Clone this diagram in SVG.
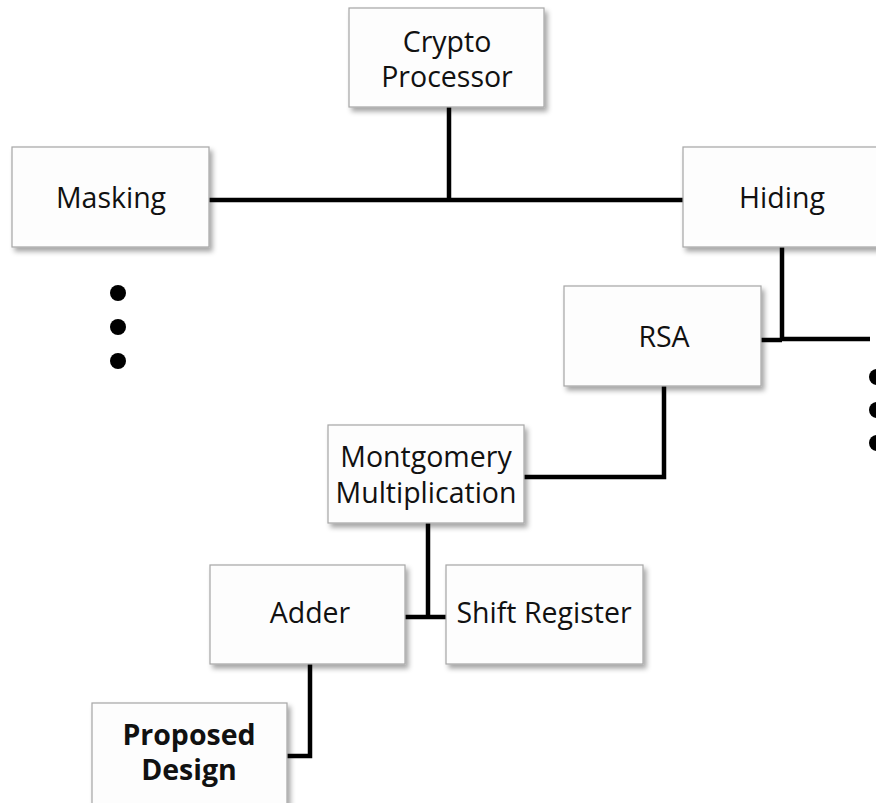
<svg xmlns="http://www.w3.org/2000/svg" width="876" height="803" viewBox="0 0 876 803">
  <defs>
    <filter id="shadow" x="-10%" y="-10%" width="130%" height="140%">
      <feDropShadow dx="3" dy="4" stdDeviation="2.5" flood-color="#000" flood-opacity="0.35"/>
    </filter>
  </defs>
  <style>
    .box { fill: #fdfdfd; stroke: #a6a6a6; stroke-width: 1.2; filter: url(#shadow); }
    .lbl { font-family: "Open Sans", "Noto Sans", "Liberation Sans", sans-serif; font-size: 28.5px; fill: #111111; text-anchor: middle; }
    .bold { font-weight: bold; }
    .wire { fill: none; stroke: #000; stroke-width: 4.5; stroke-linejoin: miter; stroke-linecap: butt; }
    .dot { fill: #000; }
  </style>
  <rect width="876" height="803" fill="#ffffff"/>

  <!-- connectors -->
  <g id="connectors">
    <path class="wire" d="M449 107 V200"/>
    <path class="wire" d="M209 200 H683"/>
    <path class="wire" d="M782 247 V339"/>
    <path class="wire" d="M761 340 H782"/>
    <path class="wire" d="M782 339 H870"/>
    <path class="wire" d="M664 386 V477 H524"/>
    <path class="wire" d="M428 523 V617"/>
    <path class="wire" d="M405 617 H446"/>
    <path class="wire" d="M310 664 V756 H287"/>
  </g>

  <!-- continuation dots -->
  <g id="dots-left">
    <circle class="dot" cx="118" cy="293" r="8"/>
    <circle class="dot" cx="118" cy="327" r="8"/>
    <circle class="dot" cx="118" cy="361" r="8"/>
  </g>
  <g id="dots-right">
    <circle class="dot" cx="877" cy="377" r="8"/>
    <circle class="dot" cx="877" cy="410" r="8"/>
    <circle class="dot" cx="877" cy="443" r="8"/>
  </g>

  <g id="crypto-processor">
    <rect class="box" x="349" y="8" width="195" height="99"/>
    <text class="lbl" x="447" y="52">Crypto</text>
    <text class="lbl" x="447" y="87">Processor</text>
  </g>

  <g id="masking">
    <rect class="box" x="12" y="147" width="197" height="100"/>
    <text class="lbl" x="111" y="208">Masking</text>
  </g>

  <g id="hiding">
    <rect class="box" x="683" y="147" width="197" height="100"/>
    <text class="lbl" x="782" y="208">Hiding</text>
  </g>

  <g id="rsa">
    <rect class="box" x="564" y="286" width="197" height="100"/>
    <text class="lbl" x="664" y="347">RSA</text>
  </g>

  <g id="montgomery">
    <rect class="box" x="328" y="425" width="196" height="98"/>
    <text class="lbl" x="426" y="467">Montgomery</text>
    <text class="lbl" x="426" y="503">Multiplication</text>
  </g>

  <g id="adder">
    <rect class="box" x="210" y="565" width="195" height="99"/>
    <text class="lbl" x="310" y="623">Adder</text>
  </g>

  <g id="shift-register">
    <rect class="box" x="446" y="565" width="197" height="99"/>
    <text class="lbl" x="544" y="623">Shift Register</text>
  </g>

  <g id="proposed-design">
    <rect class="box" x="92" y="703" width="195" height="110"/>
    <text class="lbl bold" x="189" y="745">Proposed</text>
    <text class="lbl bold" x="189" y="780">Design</text>
  </g>
</svg>
